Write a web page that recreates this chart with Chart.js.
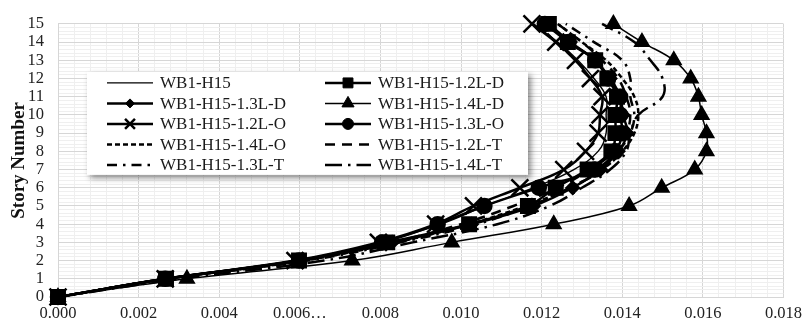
<!DOCTYPE html>
<html lang="en">
<head>
<meta charset="UTF-8">
<title>Story drift</title>
<script src="https://cdn.jsdelivr.net/npm/chart.js"></script>
<style>
  html, body { margin: 0; padding: 0; background: #fff; }
  #wrap { width: 809px; height: 329px; }
</style>
</head>
<body>
<div id="wrap"><canvas id="driftChart"></canvas></div>
<script>
// story levels (y) and drift ratios (x) per model
const stories = [0, 1, 2, 3, 4, 5, 6, 7, 8, 9, 10, 11, 12, 13, 14, 15];
const xTicks = [0, 0.002, 0.004, 0.006, 0.008, 0.010, 0.012, 0.014, 0.016, 0.018];

const h15     = [0, 0.00265, 0.0059, 0.0080, 0.0095, 0.0106, 0.0118, 0.0128, 0.0134, 0.0136, 0.0136, 0.0136, 0.0133, 0.0129, 0.0124, 0.0118];
const h15_12D = [0, 0.00268, 0.00598, 0.00817, 0.0102, 0.01166, 0.01235, 0.01314, 0.01373, 0.01383, 0.01383, 0.01387, 0.01363, 0.01333, 0.01265, 0.01218];
const h15_13D = [0, 0.00268, 0.0060, 0.00829, 0.01026, 0.0118, 0.01277, 0.01346, 0.0139, 0.01412, 0.01402, 0.01395, 0.0137, 0.01333, 0.01271, 0.01218];
const h15_14D = [0, 0.0032, 0.0073, 0.00977, 0.0123, 0.01417, 0.01498, 0.0158, 0.01609, 0.01609, 0.01597, 0.01589, 0.0157, 0.01528, 0.01449, 0.01378];
const h15_12O = [0, 0.00266, 0.00588, 0.00795, 0.00937, 0.01031, 0.01146, 0.01255, 0.01309, 0.0134, 0.01345, 0.0135, 0.01321, 0.01284, 0.01235, 0.01176];
const h15_13O = [0, 0.00266, 0.00598, 0.00804, 0.00942, 0.01058, 0.01193, 0.01333, 0.01383, 0.014, 0.01395, 0.01395, 0.01365, 0.01333, 0.01267, 0.01208];
const h15_14O = [0, 0.0027, 0.0061, 0.0084, 0.0102, 0.0116, 0.0127, 0.0135, 0.0140, 0.0143, 0.0144, 0.0143, 0.0140, 0.0136, 0.0130, 0.0124];
const h15_12T = [0, 0.0027, 0.0061, 0.0083, 0.0100, 0.0113, 0.0124, 0.0132, 0.0138, 0.0141, 0.0142, 0.0141, 0.0139, 0.0135, 0.0130, 0.0124];
const h15_13T = [0, 0.0027, 0.0062, 0.0085, 0.0104, 0.0117, 0.0127, 0.0135, 0.0139, 0.0142, 0.0143, 0.0142, 0.0142, 0.0140, 0.0133, 0.0126];
const h15_14T = [0, 0.0030, 0.0066, 0.0088, 0.0109, 0.0122, 0.0130, 0.0137, 0.0141, 0.0142, 0.0144, 0.0150, 0.0150, 0.0147, 0.0143, 0.0135];

const SERIF = '"Liberation Serif", "Times New Roman", serif';

function pts(arr) {
  return arr.map((v, i) => ({ x: v, y: stories[i] }));
}

function series(label, arr, style) {
  return Object.assign({
    label: label,
    data: pts(arr),
    borderColor: '#000',
    backgroundColor: '#000',
    pointBackgroundColor: '#000',
    pointBorderColor: '#000',
    borderWidth: 2.5,
    pointRadius: 0,
    pointHoverRadius: 0,
    tension: 0.4,
    clip: false,
    showLine: true
  }, style);
}

const datasets = [
  series('WB1-H15', h15, { borderWidth: 1.4 }),
  series('WB1-H15-1.2L-D', h15_12D, { pointStyle: 'rect', pointRadius: 9.5, legendRadius: 7 }),
  series('WB1-H15-1.3L-D', h15_13D, { pointStyle: 'rectRot', pointRadius: 6, legendRadius: 4.5 }),
  series('WB1-H15-1.4L-D', h15_14D, { borderWidth: 1.5, pointStyle: 'triangle', pointRadius: 8.5, legendRadius: 7 }),
  series('WB1-H15-1.2L-O', h15_12O, { pointStyle: 'crossRot', pointRadius: 12, pointBorderWidth: 2.5, legendRadius: 7 }),
  series('WB1-H15-1.3L-O', h15_13O, { pointStyle: 'circle', pointRadius: 7, legendRadius: 5.5 }),
  series('WB1-H15-1.4L-O', h15_14O, { borderDash: [5, 3] }),
  series('WB1-H15-1.2L-T', h15_12T, { borderDash: [10, 7] }),
  series('WB1-H15-1.3L-T', h15_13T, { borderDash: [10, 6, 2.5, 6] }),
  series('WB1-H15-1.4L-T', h15_14T, { borderDash: [17, 6, 2.5, 6] })
];

// boxed legend inside the plot, two columns, with a soft shadow
const legendBox = {
  id: 'legendBox',
  afterDatasetsDraw(chart) {
    const ctx = chart.ctx;
    const area = chart.chartArea;
    const bx = area.left + 29, by = area.top + 48, bw = 441, bh = 103;
    ctx.save();
    ctx.shadowColor = 'rgba(0,0,0,0.45)';
    ctx.shadowBlur = 6;
    ctx.shadowOffsetX = 3;
    ctx.shadowOffsetY = 3;
    ctx.fillStyle = '#fff';
    ctx.fillRect(bx, by, bw, bh);
    ctx.restore();

    ctx.save();
    ctx.font = '17px ' + SERIF;
    ctx.textBaseline = 'middle';
    chart.data.datasets.forEach((ds, i) => {
      const col = i % 2, row = Math.floor(i / 2);
      const x0 = bx + (col ? 238 : 20);
      const y = by + 11 + row * 20.5;
      ctx.strokeStyle = '#000';
      ctx.lineWidth = ds.borderWidth;
      ctx.setLineDash(ds.borderDash || []);
      ctx.beginPath();
      ctx.moveTo(x0, y);
      ctx.lineTo(x0 + 46, y);
      ctx.stroke();
      ctx.setLineDash([]);
      if (ds.pointStyle && ds.pointRadius) {
        ctx.fillStyle = '#000';
        ctx.lineWidth = ds.pointBorderWidth || 1;
        Chart.helpers.drawPoint(ctx, {
          pointStyle: ds.pointStyle,
          radius: ds.legendRadius,
          rotation: 0,
          borderWidth: ds.pointBorderWidth || 1
        }, x0 + 23, y);
      }
      ctx.fillStyle = '#1a1a1a';
      ctx.fillText(ds.label, x0 + 53, y + 1);
    });
    ctx.restore();
  }
};

new Chart(document.getElementById('driftChart'), {
  type: 'scatter',
  data: { datasets: datasets },
  plugins: [legendBox],
  options: {
    responsive: true,
    maintainAspectRatio: false,
    animation: false,
    layout: { padding: { top: 17, right: 19, left: 0, bottom: 0 } },
    plugins: {
      legend: { display: false },
      tooltip: { enabled: false }
    },
    scales: {
      x: {
        type: 'linear',
        min: xTicks[0],
        max: xTicks[xTicks.length - 1],
        ticks: {
          stepSize: 0.0004,
          autoSkip: false,
          maxRotation: 0,
          padding: 7,
          color: '#222',
          font: { family: SERIF, size: 16.5 },
          callback: function (v) {
            const k = Math.round(v / 0.0004);
            if (k % 5 !== 0) return '';
            const val = k * 0.0004;
            const lbl = val.toFixed(3);
            return lbl === '0.006' ? '0.006\u2026' : lbl;
          }
        },
        grid: {
          drawTicks: false,
          color: (c) => (c.tick && Math.round(c.tick.value / 0.0004) % 5 === 0) ? '#d6d6d6' : '#efefef'
        },
        border: { color: '#d6d6d6' },
        afterFit: (s) => { s.height = 32; }
      },
      y: {
        type: 'linear',
        min: stories[0],
        max: stories[stories.length - 1],
        ticks: {
          stepSize: 0.2,
          autoSkip: false,
          padding: 14,
          color: '#222',
          font: { family: SERIF, size: 16.5 },
          callback: function (v) {
            const k = Math.round(v * 5);
            return k % 5 === 0 ? String(k / 5) : '';
          }
        },
        grid: {
          drawTicks: false,
          color: (c) => (c.tick && Math.round(c.tick.value * 5) % 5 === 0) ? '#d6d6d6' : '#efefef'
        },
        border: { color: '#d6d6d6' },
        title: {
          display: true,
          text: 'Story Number',
          color: '#111',
          font: { family: SERIF, size: 19, weight: 'bold' },
          padding: { top: 8, bottom: 0 }
        },
        afterFit: (s) => { s.width = 58; }
      }
    }
  }
});
</script>
</body>
</html>
